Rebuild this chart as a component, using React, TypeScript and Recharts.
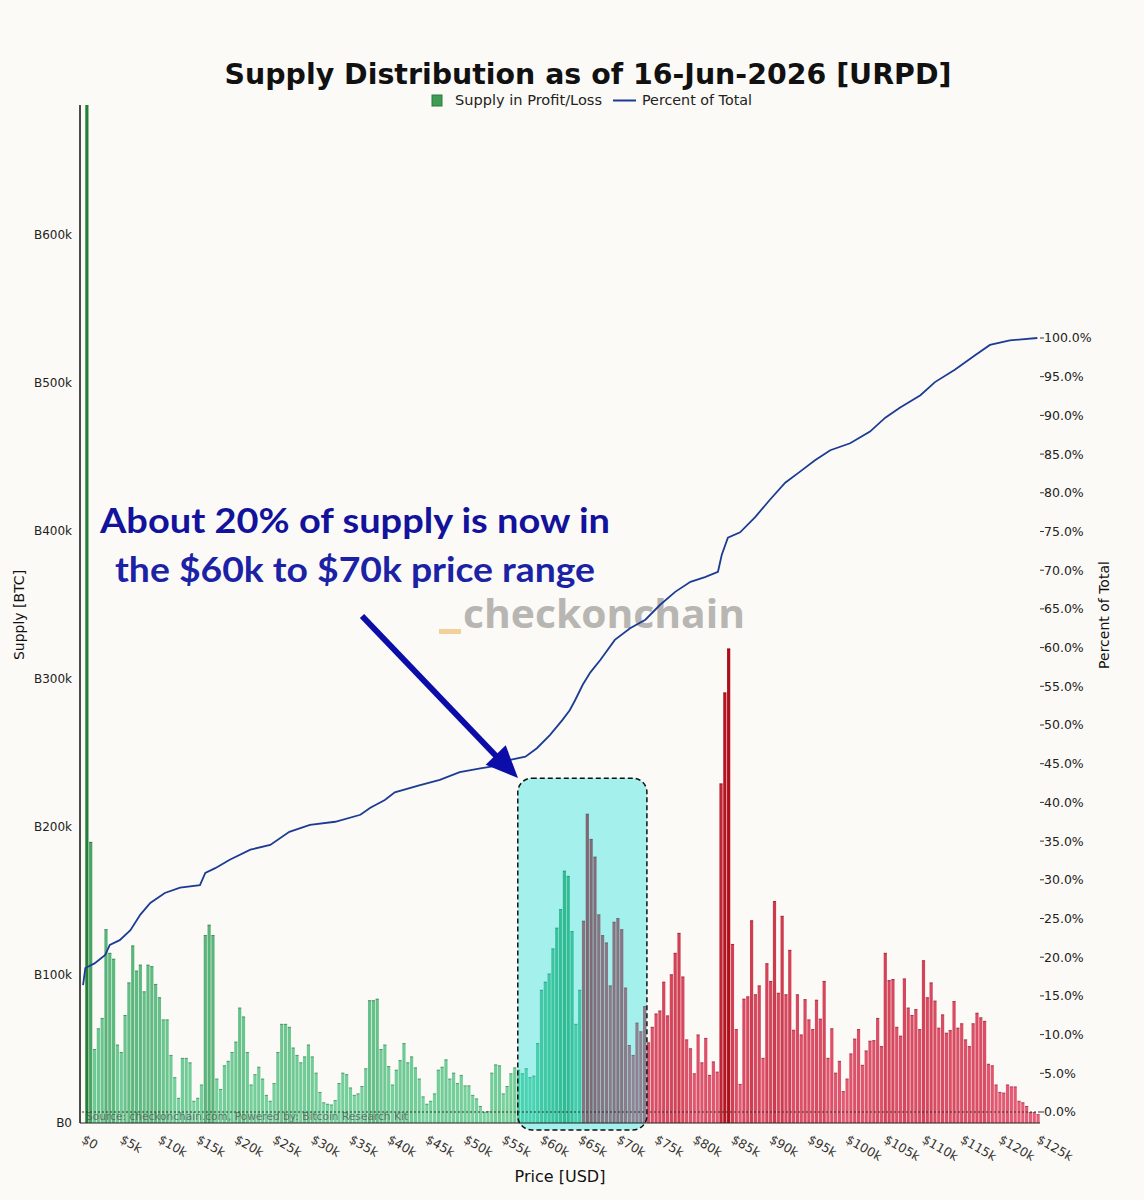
import { ComposedChart, Bar, Line, XAxis, YAxis, ReferenceArea, ReferenceLine } from 'recharts'

// URPD buckets of $500, supply per bucket in k BTC
const binWidth = 500
const currentPrice = 65000
const supplyK = [
  3250, 190, 50, 64, 71, 131, 115, 111, 53, 48,
  73, 95, 120, 103, 107, 89, 107, 106, 94, 85,
  70, 70, 46, 31, 17, 44, 44, 41, 15, 17,
  26, 127, 134, 127, 30, 23, 39, 42, 48, 55,
  78, 72, 48, 26, 33, 38, 30, 19, 15, 27,
  48, 67, 67, 65, 51, 46, 41, 45, 53, 45,
  34, 21, 14, 13, 12.5, 15.5, 27, 34, 33, 24,
  19, 20, 25, 37, 83, 83, 84, 50, 53, 38.5,
  26, 36, 42.5, 54, 41, 45, 37.6, 30, 18, 13,
  15, 20, 36, 38, 43, 30, 34, 27, 32.5, 25.4,
  25.4, 19, 16.6, 11.5, 7.6, 8, 34, 39.6, 39, 20,
  25, 33.6, 37.6, 36, 33.6, 37, 31, 32, 54, 90,
  95.5, 101, 118, 132, 144.6, 170.5, 167, 129.7, 67, 90,
  136.7, 209, 192, 180, 141, 127, 122, 93, 136, 138.5,
  131, 91.5, 52.7, 46, 67.8, 62, 79, 54.5, 65, 74,
  76, 95.5, 72.7, 100.5, 115, 128.5, 99, 56.5, 50.5, 33.6,
  59.8, 41, 57.5, 32.5, 41.6, 34.7, 229.5, 291, 320.7, 121,
  63.5, 26.4, 84, 85.6, 137, 87, 93, 44, 108, 96,
  150, 88, 140, 87, 117, 63, 87, 59.8, 83.7, 70,
  63.5, 83.3, 70.5, 96, 44, 64, 34, 42, 21.6, 30,
  47, 57, 63.5, 39.3, 49, 55.6, 56, 71, 52, 115,
  96.6, 97.3, 65, 59, 97.7, 78, 73, 77, 63.5, 110,
  85, 95, 82.7, 64.4, 73.4, 61, 62.8, 82.4, 64.4, 67.4,
  56.5, 52, 67.4, 74.5, 71.4, 69, 40, 39, 26, 21,
  20.5, 26, 24.7, 24.7, 15, 14, 11.5, 7.4, 7.4, 6,
]

// cumulative "Percent of Total" line, price in $k
const pctPrices = [
  0, 0.3, 1.5, 2.9, 3.5, 4.8, 6.2, 7.5, 8.8, 10.7, 12.7, 15.3, 16.0, 17.3, 19.2, 21.9, 24.5, 27, 29.7, 33,
  36.3, 37.6, 39.5, 40.8, 44, 46.7, 49.3, 52, 54.6, 55.9, 57.9, 59.4, 61.1, 62.7, 63.7, 64.4, 65.4, 66.4,
  67.7, 69.6, 71.6, 73.6, 75.5, 77.5, 79.5, 81.4, 83.1, 83.6, 84.4, 86, 88, 89.9, 91.9, 93.8, 95.8, 97.8,
  100.4, 103, 105, 106.9, 109.6, 111.5, 114.1, 116.8, 118.7, 121.3, 124.9,
]
const pctValues = [
  16.4, 18.6, 19.2, 20.3, 21.6, 22.2, 23.5, 25.5, 27, 28.3, 29, 29.3, 30.9, 31.5, 32.6, 33.9, 34.5, 36.2, 37.1, 37.5,
  38.4, 39.3, 40.3, 41.3, 42.2, 42.9, 43.9, 44.4, 44.8, 45.5, 45.9, 47, 48.7, 50.6, 51.9, 53.2, 55.2, 56.8,
  58.4, 61, 62.5, 63.6, 65.5, 67.2, 68.5, 69.1, 69.8, 72, 74.2, 74.9, 76.9, 79.1, 81.3, 82.7, 84.2, 85.5,
  86.4, 87.9, 89.7, 91, 92.6, 94.3, 95.9, 97.8, 99.1, 99.7, 100,
]

const xTicks = [0, 5000, 10000, 15000, 20000, 25000, 30000, 35000, 40000, 45000, 50000, 55000, 60000, 65000,
  70000, 75000, 80000, 85000, 90000, 95000, 100000, 105000, 110000, 115000, 120000, 125000]
const supplyTicks = [0, 100000, 200000, 300000, 400000, 500000, 600000]
const pctTicks = [0, 5, 10, 15, 20, 25, 30, 35, 40, 45, 50, 55, 60, 65, 70, 75, 80, 85, 90, 95, 100]

// highlighted $60k-$70k zone
const zone = { x1: 56900, x2: 73800, y1: -4700, y2: 233000 }

const barData = supplyK.map((s, i) => ({ price: (i + 1) * binWidth, supply: s * 1000, profit: i * binWidth < currentPrice }))
const lineData = pctPrices.map((p, i) => ({ price: p * 1000, pct: pctValues[i] }))

const mix = (a: number[], b: number[], t: number) =>
  `rgb(${a.map((c, k) => Math.round(c + (b[k] - c) * t)).join(',')})`
const barColor = (v: number, profit: boolean) =>
  profit
    ? mix([125, 215, 165], [36, 128, 56], Math.min(1, v / 320000))
    : mix([230, 96, 122], [174, 14, 26], Math.min(1, v / 320000))

const font = 'DejaVu Sans, Verdana, sans-serif'
const tickStyle = { fill: '#222', fontSize: 12, fontFamily: font }

const XTick = ({ x, y, payload }: any) => (
  <g transform={`translate(${x},${y + 7})`}>
    <text transform="rotate(30)" textAnchor="start" dominantBaseline="central" fill="#333" fontSize={12.5} fontFamily={font}>
      {payload.value === 0 ? '$0' : `$${payload.value / 1000}k`}
    </text>
  </g>
)

// each bucket drawn 3.2px wide around its price, coloured by profit/loss and size
const BucketShape = (p: any) => {
  if (!p.height || p.height <= 0) return null
  const cx = p.x + p.width / 2
  const fill = barColor(p.payload.supply, p.payload.profit)
  return (
    <g>
      <rect x={cx - 1.6} y={p.y} width={3.2} height={p.height} fill={fill} />
      <rect x={cx - 1.6} y={p.y} width={3.2} height={1} fill="#000" fillOpacity={0.25} />
    </g>
  )
}

const ZoneShape = (p: any) => (
  <rect x={p.x} y={p.y} width={p.width} height={p.height} rx={14} ry={14}
    fill="#00dcdc" fillOpacity={0.35} stroke="#111" strokeWidth={1.5} strokeDasharray="5 3" />
)

export default function App() {
  return (
    <div style={{ position: 'absolute', left: 0, top: 0, width: 1144, height: 1200, background: '#fcfaf6', overflow: 'hidden' }}>
      {/* watermark, sits behind the line */}
      <svg width={1144} height={1200} style={{ position: 'absolute', left: 0, top: 0 }}>
        <rect x={439} y={629} width={22} height={5} fill="#f3d09a" />
        <text x={463} y={628} fontFamily="Open Sans, sans-serif" fontWeight={700} fontSize={40} fill="#b8b6b2"
          textLength={282} lengthAdjust="spacingAndGlyphs">checkonchain</text>
      </svg>

      <div style={{ position: 'absolute', left: 0, top: 0 }}>
        <ComposedChart width={1144} height={1200} data={barData} barGap={0} barCategoryGap={0}
          margin={{ top: 105, right: 0, bottom: 0, left: 0 }}>
          <XAxis dataKey="price" type="number" domain={[-400, 125250]} ticks={xTicks} allowDataOverflow
            height={77} tickLine={false} axisLine={{ stroke: '#222' }} tick={XTick} interval={0} />
          <YAxis yAxisId="left" width={80} domain={[0, 688000]} ticks={supplyTicks} allowDataOverflow
            tickLine={false} axisLine={{ stroke: '#111', strokeWidth: 1.5 }} tick={tickStyle}
            tickFormatter={(v: number) => (v === 0 ? 'B0' : `B${v / 1000}k`)} />
          <YAxis yAxisId="right" orientation="right" width={104} domain={[-1.42, 130.1]} ticks={pctTicks}
            allowDataOverflow axisLine={false} tickSize={4} tickMargin={0} tickLine={{ stroke: '#333' }}
            tick={{ ...tickStyle, fontSize: 12.5 }} tickFormatter={(v: number) => `${v.toFixed(1)}%`} />
          <ReferenceLine yAxisId="right" y={0} stroke="#333" strokeDasharray="2 2" />
          <Bar yAxisId="left" dataKey="supply" shape={BucketShape} isAnimationActive={false} />
          <ReferenceArea yAxisId="left" x1={zone.x1} x2={zone.x2} y1={zone.y1} y2={zone.y2}
            ifOverflow="visible" shape={ZoneShape} zIndex={350} />
          <Line yAxisId="right" data={lineData} dataKey="pct" type="linear" stroke="#1c3c94" strokeWidth={1.8}
            dot={false} isAnimationActive={false} />
        </ComposedChart>
      </div>

      {/* titles, legend, annotation */}
      <svg width={1144} height={1200} style={{ position: 'absolute', left: 0, top: 0, pointerEvents: 'none' }}>
        <text x={588} y={84} textAnchor="middle" fontFamily={font} fontWeight={700} fontSize={28} fill="#111"
          textLength={727} lengthAdjust="spacingAndGlyphs">Supply Distribution as of 16-Jun-2026 [URPD]</text>

        <rect x={432} y={95} width={10} height={11} fill="#3f9c55" stroke="#2b7a3c" strokeWidth={1} />
        <text x={455} y={105} fontFamily={font} fontSize={14} fill="#222" textLength={147}
          lengthAdjust="spacingAndGlyphs">Supply in Profit/Loss</text>
        <line x1={613} x2={636} y1={100.5} y2={100.5} stroke="#1c3c94" strokeWidth={2} />
        <text x={642} y={105} fontFamily={font} fontSize={14} fill="#222" textLength={110}
          lengthAdjust="spacingAndGlyphs">Percent of Total</text>

        <text transform="translate(24,615) rotate(-90)" textAnchor="middle" fontFamily={font} fontSize={14} fill="#111">Supply [BTC]</text>
        <text transform="translate(1109,615) rotate(-90)" textAnchor="middle" fontFamily={font} fontSize={14} fill="#111">Percent of Total</text>
        <text x={560} y={1182} textAnchor="middle" fontFamily={font} fontSize={16} fill="#111">Price [USD]</text>

        <text x={86} y={1120} fontFamily={font} fontSize={11} fill="#555" fillOpacity={0.75} textLength={322}
          lengthAdjust="spacingAndGlyphs">Source: checkonchain.com, Powered by: Bitcoin Research Kit</text>

        <text x={355} y={533} textAnchor="middle" fontFamily="Lato, sans-serif" fontWeight={700} fontSize={35}
          fill="#12129c" textLength={510} lengthAdjust="spacingAndGlyphs">About 20% of supply is now in</text>
        <text x={355} y={582} textAnchor="middle" fontFamily="Lato, sans-serif" fontWeight={700} fontSize={35}
          fill="#1b22a6" textLength={480} lengthAdjust="spacingAndGlyphs">the $60k to $70k price range</text>

        <line x1={362} y1={616} x2={497} y2={757} stroke="#0c0ca8" strokeWidth={6} />
        <polygon points="518,778 485.7,764.7 505.7,745.3" fill="#0c0ca8" />
      </svg>
    </div>
  )
}
